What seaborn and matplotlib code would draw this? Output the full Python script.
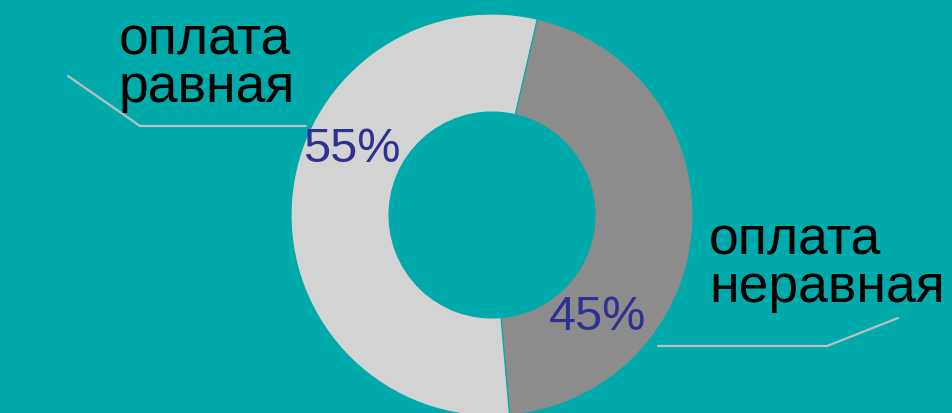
import matplotlib
matplotlib.use('Agg')
import matplotlib.pyplot as plt
import seaborn as sns

# DATA ------------------
labels = ['оплата\nнеравная', 'оплата\nравная']
shares = [45, 55]
pct_labels = ['45%', '55%']

# STYLE -----------------
teal = '#00AAAA'
slice_colors = ['#8C8C8C', '#D3D3D3']
pct_color = '#2E3192'
leader_color = '#BEBEBE'

sns.set_style('white', rc={'axes.facecolor': teal, 'figure.facecolor': teal})
plt.rcParams['font.family'] = ['Liberation Sans', 'DejaVu Sans']

W, H = 953, 414
fig = plt.figure(figsize=(W / 100, H / 100), dpi=100)
ax = fig.add_axes([0, 0, 1, 1])

# donut, centre/radius in pixel units (y up)
cx, cy, r_out, r_in = 492, H - 216, 201, 103
wedges, _ = ax.pie(
    shares,
    colors=slice_colors,
    startangle=77,
    counterclock=False,
    center=(cx, cy),
    radius=r_out,
    wedgeprops={'width': r_out - r_in, 'edgecolor': teal, 'linewidth': 0.8},
)
ax.set_xlim(0, W)
ax.set_ylim(0, H)
ax.set_aspect('equal')
ax.axis('off')

# percentage labels
ax.text(598, H - 317, pct_labels[0], color=pct_color, fontsize=35, ha='center', va='center')
ax.text(352, H - 150, pct_labels[1], color=pct_color, fontsize=35, ha='center', va='center')

# category labels
ax.text(119, H - 102, labels[1], color='black', fontsize=38.5, ha='left', va='baseline',
        linespacing=0.93)
ax.text(709, H - 302, labels[0], color='black', fontsize=38.5, ha='left', va='baseline',
        linespacing=0.93)

# leader lines
ax.plot([68, 140, 306], [H - 77, H - 127, H - 127], color=leader_color, lw=1.6)
ax.plot([658, 827, 898], [H - 347, H - 347, H - 319], color=leader_color, lw=1.6)

fig.savefig('out.png', dpi=100, facecolor=teal)
